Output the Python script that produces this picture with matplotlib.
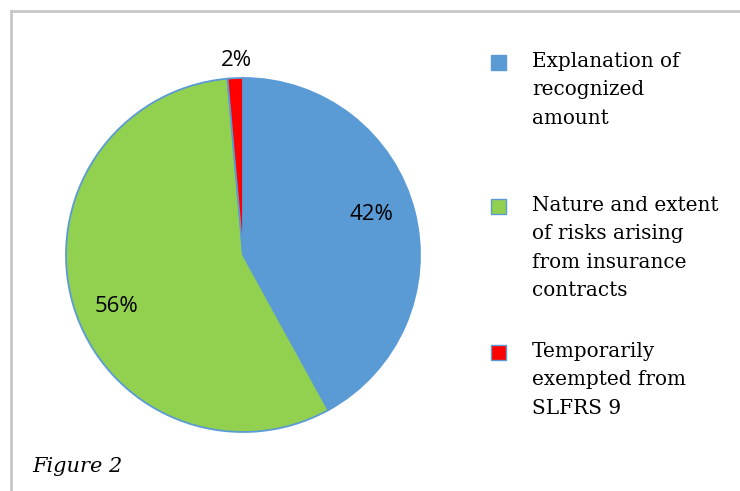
import matplotlib.pyplot as plt
from matplotlib.lines import Line2D
from matplotlib.patches import Rectangle

# shares, labels as printed on the chart
categories = ['Explanation of\nrecognized\namount',
              'Nature and extent\nof risks arising\nfrom insurance\ncontracts',
              'Temporarily\nexempted from\nSLFRS 9']
shares = [42.0, 56.6, 1.4]
pct_labels = ['42%', '56%', '2%']
colors = ['#5B9BD5', '#92D050', '#FF0000']

fig = plt.figure(figsize=(7.4, 4.91), dpi=100)

# gray frame (top and left edges visible)
fig.add_artist(Line2D([11/740, 1], [1 - 11/491, 1 - 11/491], color='#c8c8c8', lw=2))
fig.add_artist(Line2D([11/740, 11/740], [0, 1 - 11/491], color='#c8c8c8', lw=2))

# pie: center ~ (243, 255), radius ~ 177 px
r = 177
ax = fig.add_axes([(243 - r) / 740, 1 - (255 + r) / 491, 2 * r / 740, 2 * r / 491])
wedges, _ = ax.pie(shares, colors=colors, startangle=90, counterclock=False,
                   wedgeprops=dict(edgecolor='#5B9BD5', linewidth=1.3))
ax.set_xlim(-1, 1)
ax.set_ylim(-1, 1)
ax.set_aspect('auto')

# percent labels
label_pos = [(371, 215), (117, 306), (236, 60)]
for txt, (px, py) in zip(pct_labels, label_pos):
    ax.text((px - 243) / r, -(py - 255) / r, txt, ha='center', va='center',
            fontsize=16, family='Open Sans', clip_on=False)

# legend
tops = [62, 206, 352]
for cat, col, top in zip(categories, colors, tops):
    fig.add_artist(Rectangle((491 / 740, 1 - (top + 8) / 491), 15 / 740, 15 / 491,
                             facecolor=col, edgecolor='#5B9BD5', lw=1,
                             transform=fig.transFigure))
    fig.text(532 / 740, 1 - (top - 10) / 491, cat, ha='left', va='top', fontsize=14.4,
             family='DejaVu Serif', linespacing=1.62)

fig.text(32 / 740, 1 - 466 / 491, 'Figure 2', ha='left', va='center', fontsize=15,
         family='DejaVu Serif', style='italic')

fig.savefig('out.png', dpi=100)
